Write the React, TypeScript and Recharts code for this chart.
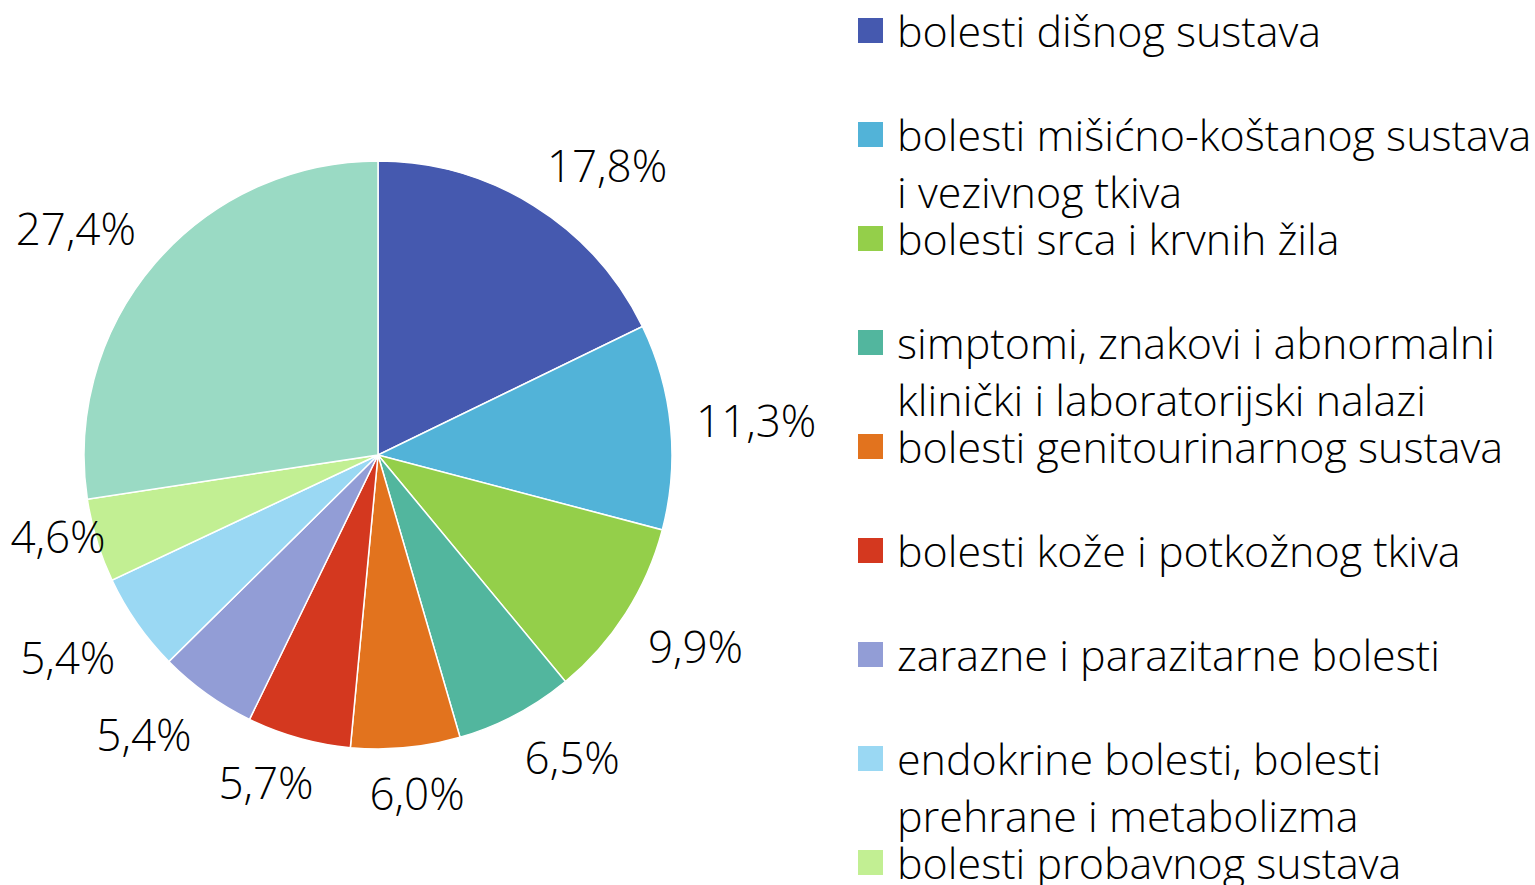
import React from 'react';
import { PieChart, Pie, Cell, Legend } from 'recharts';

const categories = [
  'bolesti dišnog sustava',
  'bolesti mišićno-koštanog sustava i vezivnog tkiva',
  'bolesti srca i krvnih žila',
  'simptomi, znakovi i abnormalni klinički i laboratorijski nalazi',
  'bolesti genitourinarnog sustava',
  'bolesti kože i potkožnog tkiva',
  'zarazne i parazitarne bolesti',
  'endokrine bolesti, bolesti prehrane i metabolizma',
  'bolesti probavnog sustava',
  'ostalo',
];

const legendLines: string[][] = [
  ['bolesti dišnog sustava'],
  ['bolesti mišićno-koštanog sustava', 'i vezivnog tkiva'],
  ['bolesti srca i krvnih žila'],
  ['simptomi, znakovi i abnormalni', 'klinički i laboratorijski nalazi'],
  ['bolesti genitourinarnog sustava'],
  ['bolesti kože i potkožnog tkiva'],
  ['zarazne i parazitarne bolesti'],
  ['endokrine bolesti, bolesti', 'prehrane i metabolizma'],
  ['bolesti probavnog sustava'],
];

const values = [17.8, 11.3, 9.9, 6.5, 6.0, 5.7, 5.4, 5.4, 4.6, 27.4];

const colors = [
  '#4559AF',
  '#52B3D8',
  '#94CF4A',
  '#52B69E',
  '#E2731E',
  '#D4381F',
  '#929DD6',
  '#9AD8F3',
  '#C2EF93',
  '#9ADAC4',
];

const data = categories.map((name, i) => ({ name, value: values[i] }));

const FONT = '"Open Sans", sans-serif';
const RAD = Math.PI / 180;

const clamp = (v: number) => Math.max(-1, Math.min(1, v));

const renderLabel = (props: any) => {
  const { cx, cy, midAngle, outerRadius, value } = props;
  const text = Number(value).toFixed(1).replace('.', ',') + '%';
  const r = outerRadius + 27;
  const c = Math.cos(midAngle * RAD);
  const s = Math.sin(midAngle * RAD);
  const px = cx + r * c;
  const py = cy - r * s;
  const w = text.length * 23.5;
  const h = 36;
  let x = px + clamp(2 * c) * (w / 2);
  let y = py - clamp(2 * s) * (h / 2);
  const minX = 11 + w / 2;
  if (x < minX) {
    // keep the label inside the picture: slide it along the circle
    const R = outerRadius + 36;
    const dx = minX - cx;
    const dy = Math.sqrt(Math.max(0, R * R - dx * dx));
    x = minX;
    y = cy + (y >= cy ? dy : -dy);
  }
  return (
    <text
      x={x}
      y={y}
      textAnchor="middle"
      dominantBaseline="central"
      fill="#000"
      fontFamily={FONT}
      fontSize={44}
      fontWeight={300}
    >
      {text}
    </text>
  );
};

const renderLegend = () => (
  <div style={{ fontFamily: FONT, fontWeight: 300, color: '#000' }}>
    {legendLines.map((lines, i) => (
      <div key={i} style={{ position: 'relative', height: 104, width: 685 }}>
        <div
          style={{
            position: 'absolute',
            left: 8,
            top: 16,
            width: 25,
            height: 25,
            background: colors[i],
          }}
        />
        {lines.map((ln, j) => (
          <div
            key={j}
            style={{
              position: 'absolute',
              left: 47,
              top: j * 57,
              height: 57,
              lineHeight: '57px',
              fontSize: 43,
              whiteSpace: 'nowrap',
            }}
          >
            {ln}
          </div>
        ))}
      </div>
    ))}
  </div>
);

export default function App() {
  return (
    <div style={{ position: 'absolute', left: 0, top: 0, width: 1535, height: 885, background: '#fff' }}>
      <PieChart width={1535} height={885} margin={{ top: 0, right: 0, bottom: 0, left: 0 }}>
        <Pie
          data={data}
          dataKey="value"
          nameKey="name"
          cx={378}
          cy={455}
          outerRadius={294}
          startAngle={90}
          endAngle={-270}
          stroke="#fff"
          strokeWidth={1.5}
          label={renderLabel}
          labelLine={false}
          isAnimationActive={false}
        >
          {data.map((d, i) => (
            <Cell key={d.name} fill={colors[i]} />
          ))}
        </Pie>
        <Legend
          content={renderLegend}
          layout="vertical"
          verticalAlign="top"
          align="right"
          wrapperStyle={{ position: 'absolute', left: 850, top: 2, width: 685, margin: 0 }}
        />
      </PieChart>
    </div>
  );
}
